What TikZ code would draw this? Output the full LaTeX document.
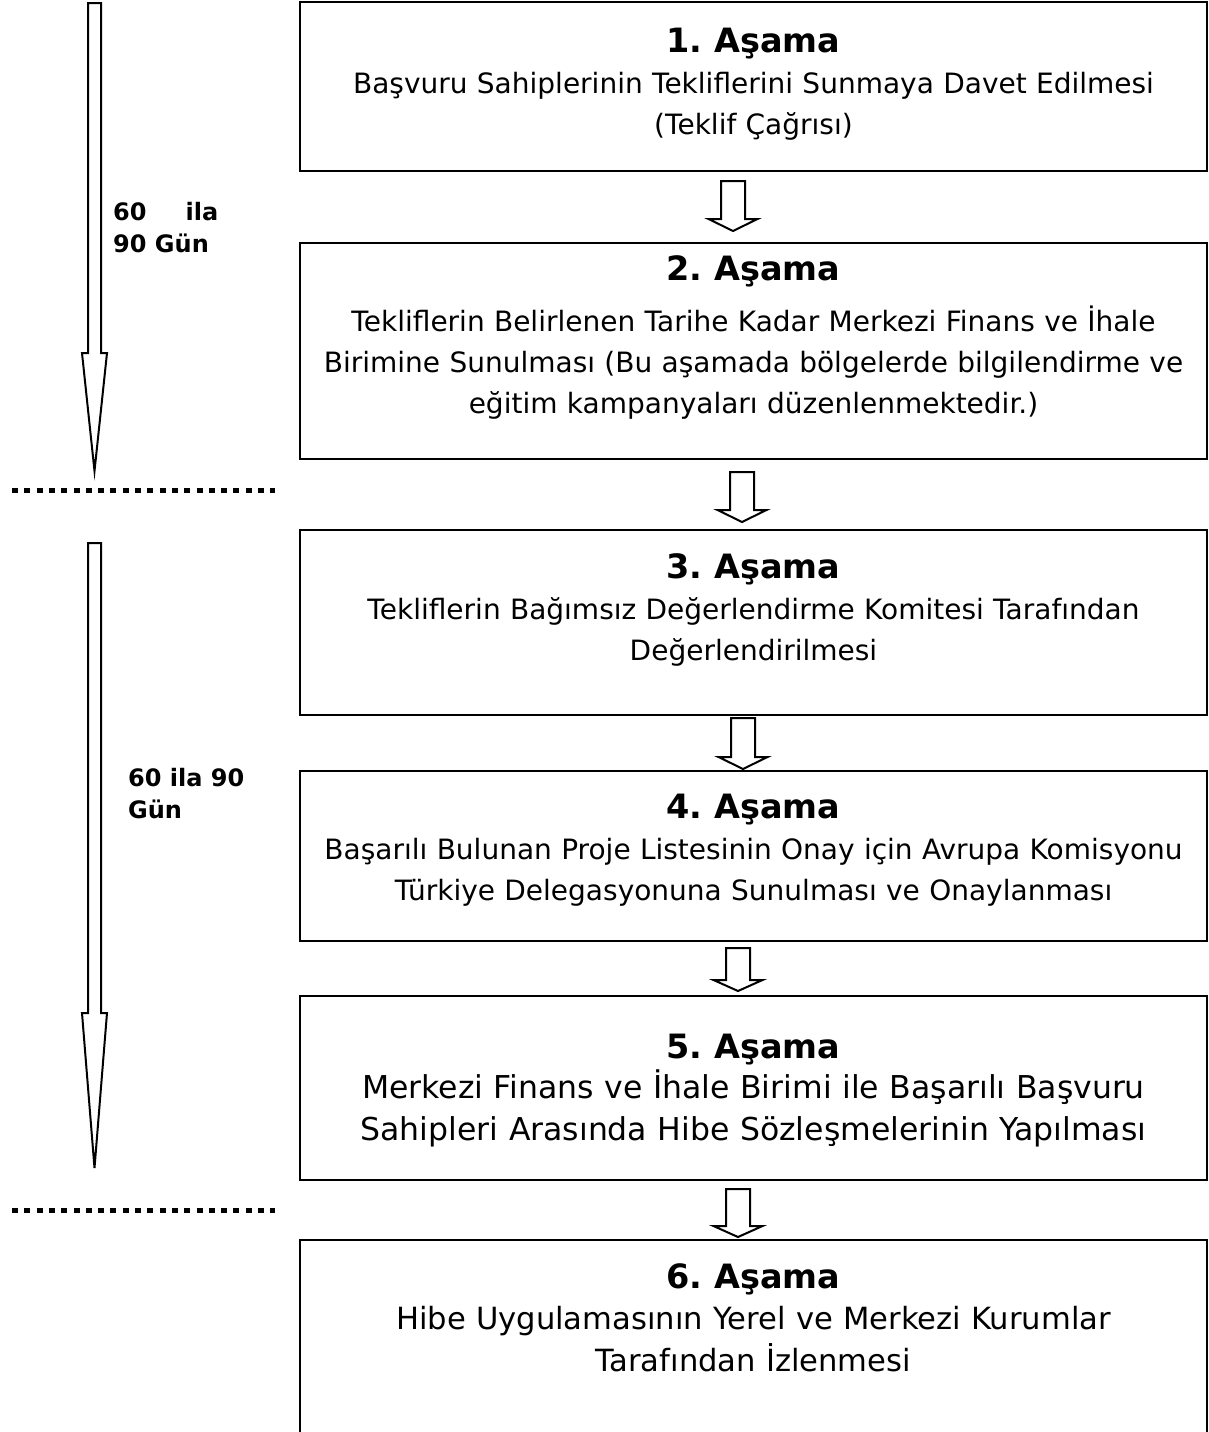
\documentclass[tikz,border=0pt]{standalone}
\usepackage{fontspec}
\setmainfont{DejaVu Sans}
\usepackage{tikz}

\begin{document}
\begin{tikzpicture}[x=1pt,y=-1pt,
    stagebox/.style={draw=black,line width=2pt,minimum width=907pt,inner sep=0pt},
    stagetitle/.style={font=\fontsize{33.5}{41}\selectfont\bfseries\frenchspacing,anchor=base,inner sep=0pt},
    stagetext/.style={font=\fontsize{28}{41}\selectfont,align=center,text width=900pt,anchor=base,inner sep=0pt},
    bigtext/.style={stagetext,font=\fontsize{31.5}{42}\selectfont},
    fatarrow/.style={draw=black,line width=2pt,fill=white},
    daylabel/.style={font=\fontsize{24}{32}\selectfont\bfseries,align=left,anchor=base west,inner sep=0pt},
    sepline/.style={line width=5pt,dash pattern=on 6pt off 6.3pt}]
    % \draw[help lines] grid (1209,1432);
    \useasboundingbox (0,0) rectangle (1209,1432);

    % Stage boxes
    \foreach \n/\y/\h in {1/86.5/169,2/351/216,3/622.5/185,4/856/170,5/1088/184,6/1342.5/205} {
        \node[stagebox,minimum height=\h pt] (s\n) at (753.5,\y) {};
    }

    % Titles
    \foreach \n/\y in {1/52,2/280,3/578,4/818,5/1058,6/1288} {
        \node[stagetitle] (t\n) at (753.5,\y) {\n. Aşama};
    }

    % Texts
    \node[stagetext] (d1) at (753.5,93)
        {Başvuru Sahiplerinin Tekliflerini Sunmaya Davet Edilmesi\\(Teklif Çağrısı)};
    \node[stagetext] (d2) at (753.5,331)
        {Tekliflerin Belirlenen Tarihe Kadar Merkezi Finans ve İhale\\Birimine Sunulması (Bu aşamada bölgelerde bilgilendirme ve\\eğitim kampanyaları düzenlenmektedir.)};
    \node[stagetext] (d3) at (753.5,619)
        {Tekliflerin Bağımsız Değerlendirme Komitesi Tarafından\\Değerlendirilmesi};
    \node[stagetext] (d4) at (753.5,859)
        {Başarılı Bulunan Proje Listesinin Onay için Avrupa Komisyonu\\Türkiye Delegasyonuna Sunulması ve Onaylanması};
    \node[bigtext] (d5) at (753.5,1098)
        {Merkezi Finans ve İhale Birimi ile Başarılı Başvuru\\Sahipleri Arasında Hibe Sözleşmelerinin Yapılması};
    \node[bigtext,font=\fontsize{30.6}{42}\selectfont] (d6) at (753.5,1329)
        {Hibe Uygulamasının Yerel ve Merkezi Kurumlar\\Tarafından İzlenmesi};

    % Arrows between stages
    \foreach \x/\ya/\yb/\yc in {733/181/219/231,742/472/510/522,743/718/757/769,738/948/980/991,738/1189/1226/1237} {
        \draw[fatarrow] (\x-12,\ya) -- (\x+12,\ya) -- (\x+12,\yb) -- (\x+24.5,\yb)
            -- (\x,\yc) -- (\x-24.5,\yb) -- (\x-12,\yb) -- cycle;
    }

    % Duration arrows
    \foreach \ya/\yb/\yc in {3/353/471,543/1013/1168} {
        \draw[fatarrow] (88,\ya) -- (101,\ya) -- (101,\yb) -- (107,\yb)
            -- (94.5,\yc) -- (82,\yb) -- (88,\yb) -- cycle;
    }

    % Durations
    \node[daylabel] (g1) at (113,252) {\makebox[105pt][s]{60 ila}\\90 Gün};
    \node[daylabel] (g2) at (128,818) {60 ila 90\\Gün};

    % Separators
    \draw[sepline] (12,490) -- (275,490);
    \draw[sepline] (12,1210) -- (275,1210);

\end{tikzpicture}
\end{document}
